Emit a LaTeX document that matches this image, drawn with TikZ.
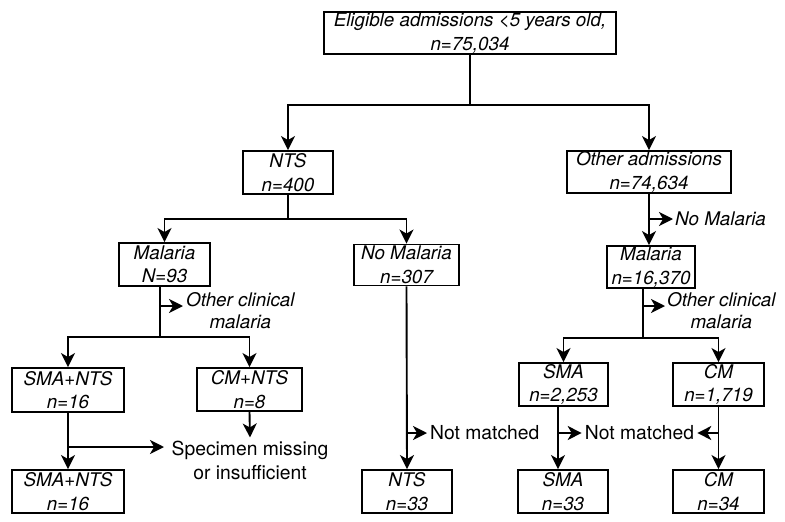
\documentclass[tikz,border=0pt]{standalone}
\usepackage{fontspec}
\setmainfont{TeX Gyre Heros}
\usetikzlibrary{arrows.meta}
\begin{document}
\begin{tikzpicture}[x=1pt,y=-1pt,
  box/.style={draw, line width=1.9pt, inner sep=0pt, align=center,
    font=\itshape\fontsize{18.8}{23.5}\selectfont},
  lab/.style={inner sep=3pt, align=center, font=\fontsize{19.3}{24}\selectfont},
  ilab/.style={inner sep=2pt, align=center, font=\itshape\fontsize{18.8}{22}\selectfont},
  conn/.style={line width=1.9pt},
  arr/.style={line width=1.9pt, -{Stealth[length=14pt,width=14pt,inset=4pt]}}]
\useasboundingbox (0,0) rectangle (785,522);
% boxes
\node[box, minimum width=292, minimum height=42] (top) at (470,33) {Eligible admissions <5 years old,\\n=75,034};
\node[box, minimum width=90, minimum height=43] (nts) at (288,172.5) {NTS\\n=400};
\node[box, minimum width=164, minimum height=42] (other) at (649,172) {Other admissions\\n=74,634};
\node[box, minimum width=91, minimum height=43] (mal93) at (164.5,264.5) {Malaria\\N=93};
\node[box, minimum width=105, minimum height=41] (nomal) at (406.5,265) {No Malaria\\n=307};
\node[box, minimum width=88, minimum height=42] (mal16) at (651,267) {Malaria\\n=16,370};
\node[box, minimum width=112, minimum height=44] (smants) at (68,390) {SMA+NTS\\n=16};
\node[box, minimum width=105, minimum height=43] (cmnts) at (249.5,389.5) {CM+NTS\\n=8};
\node[box, minimum width=89, minimum height=43] (sma) at (563.5,384.5) {SMA\\n=2,253};
\node[box, minimum width=91, minimum height=43] (cm) at (718.5,384.5) {CM\\n=1,719};
\node[box, minimum width=112, minimum height=43] (smants2) at (68,491.5) {SMA+NTS\\n=16};
\node[box, minimum width=90, minimum height=43] (nts33) at (407,491.5) {NTS\\n=33};
\node[box, minimum width=90, minimum height=43] (sma33) at (563,491.5) {SMA\\n=33};
\node[box, minimum width=91, minimum height=43] (cm34) at (718.5,491.5) {CM\\n=34};
% labels
\node[lab] (spec) at (250,460) {Specimen missing\\or insufficient};
\node[lab, anchor=west] (nm1) at (427,433) {Not matched};
\node[lab] (nm2) at (639.5,433) {Not matched};
\node[ilab, anchor=west] (nomallab) at (673,219) {No Malaria};
\node[ilab, anchor=west] (oc1) at (184,311) {Other clinical\\malaria};
\node[ilab, anchor=west] (oc2) at (665,311) {Other clinical\\malaria};
% offset attachment points
\coordinate (m93s) at ([xshift=-4.5pt]mal93.south);
\coordinate (m16s) at ([xshift=-8pt]mal16.south);
\coordinate (smas) at ([xshift=-5.5pt]sma.south);
% connectors
\draw[conn] (top.south) -- (top.south |- 0,105) coordinate (s1);
\draw[arr] (s1) -| (nts.north);
\draw[arr] (s1) -| (other.north);
\draw[conn] (nts.south) -- (nts.south |- 0,219) coordinate (s2);
\draw[arr] (s2) -| (mal93.north);
\draw[arr] (s2) -| (nomal.north);
\draw[arr] (other.south) -- (mal16.north -| other.south);
\draw[arr] (other.south |- nomallab.west) -- (nomallab.west);
\draw[conn] (m93s) -- (m93s |- 0,337) coordinate (s3);
\draw[arr] (s3) -| (smants.north);
\draw[arr] (s3) -| (cmnts.north);
\coordinate (oc1a) at (183,306);
\draw[arr] (m93s |- oc1a) -- (oc1a);
\draw[conn] (m16s) -- (m16s |- 0,338) coordinate (s4);
\draw[arr] (s4) -| (sma.north);
\draw[arr] (s4) -| (cm.north);
\coordinate (oc2a) at (665,306);
\draw[arr] (m16s |- oc2a) -- (oc2a);
\draw[arr] (smants.south) -- (smants2.north);
\coordinate (specA) at (164,447);
\draw[arr] (smants.south |- specA) -- (specA);
\draw[arr] (cmnts.south) -- (spec.north);
\draw[arr] (nomal.south) -- (nts33.north);
\draw[arr] (nomal.south |- nm1.west) -- (nm1.west);
\draw[arr] (smas) -- (smas |- sma33.north);
\draw[arr] (smas |- nm2.west) -- (nm2.west);
\draw[arr] (cm.south) -- (cm34.north);
\draw[arr] (cm.south |- nm2.east) -- (nm2.east);
\end{tikzpicture}
\end{document}
